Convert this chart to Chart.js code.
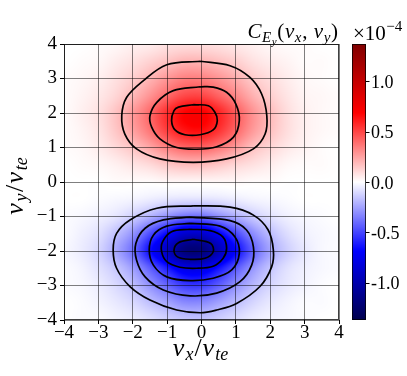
<!DOCTYPE html>
<html>
<head>
<meta charset="utf-8">
<script src="https://cdn.jsdelivr.net/npm/chart.js@4.4.0/dist/chart.umd.min.js"></script>
<style>
  html, body { margin: 0; padding: 0; background: #fff; }
</style>
</head>
<body>
<canvas id="chart" width="407" height="376"></canvas>
<script>
// C_Ey on a 0.5 grid, in units of 1e-4
const gridVx = [-4, -3.5, -3, -2.5, -2, -1.5, -1, -0.5, 0, 0.5, 1, 1.5, 2, 2.5, 3, 3.5, 4];
const gridVy = [4, 3.5, 3, 2.5, 2, 1.5, 1, 0.5, 0, -0.5, -1, -1.5, -2, -2.5, -3, -3.5, -4];
const cValues = [
  [0, 0, 0.01, 0.02, 0.04, 0.05, 0.08, 0.09, 0.09, 0.08, 0.06, 0.04, 0.02, 0.01, 0.01, 0, 0],
  [0, 0.01, 0.02, 0.05, 0.08, 0.12, 0.16, 0.2, 0.2, 0.17, 0.13, 0.08, 0.05, 0.03, 0.01, 0.01, 0],
  [0.01, 0.02, 0.04, 0.08, 0.13, 0.2, 0.28, 0.34, 0.34, 0.29, 0.22, 0.14, 0.09, 0.05, 0.02, 0.01, 0],
  [0.01, 0.03, 0.06, 0.11, 0.19, 0.29, 0.4, 0.49, 0.5, 0.42, 0.32, 0.21, 0.13, 0.07, 0.03, 0.02, 0.01],
  [0.01, 0.04, 0.08, 0.16, 0.27, 0.4, 0.56, 0.68, 0.7, 0.59, 0.44, 0.29, 0.18, 0.09, 0.04, 0.02, 0.01],
  [0.01, 0.03, 0.07, 0.15, 0.25, 0.37, 0.52, 0.63, 0.65, 0.55, 0.41, 0.27, 0.17, 0.09, 0.04, 0.02, 0.01],
  [0.01, 0.02, 0.05, 0.1, 0.16, 0.24, 0.34, 0.41, 0.42, 0.36, 0.27, 0.17, 0.11, 0.06, 0.03, 0.01, 0],
  [0, 0.01, 0.02, 0.04, 0.07, 0.1, 0.15, 0.18, 0.18, 0.15, 0.11, 0.08, 0.05, 0.02, 0.01, 0.01, 0],
  [0, 0, 0, 0.01, 0.01, 0.01, 0.02, 0.02, 0.02, 0.02, 0.02, 0.01, 0.01, 0, 0, 0, 0],
  [0, 0, -0.01, -0.02, -0.03, -0.05, -0.07, -0.08, -0.08, -0.07, -0.05, -0.03, -0.02, -0.01, 0, 0, 0],
  [-0.01, -0.02, -0.04, -0.07, -0.13, -0.21, -0.3, -0.38, -0.39, -0.31, -0.22, -0.14, -0.08, -0.04, -0.02, -0.01, 0],
  [-0.01, -0.04, -0.08, -0.17, -0.29, -0.48, -0.68, -0.87, -0.88, -0.71, -0.5, -0.31, -0.18, -0.09, -0.04, -0.02, -0.01],
  [-0.02, -0.05, -0.11, -0.23, -0.39, -0.65, -0.92, -1.18, -1.19, -0.96, -0.67, -0.42, -0.24, -0.13, -0.06, -0.02, -0.01],
  [-0.01, -0.03, -0.08, -0.15, -0.26, -0.43, -0.61, -0.78, -0.79, -0.64, -0.45, -0.28, -0.16, -0.08, -0.04, -0.02, -0.01],
  [-0.01, -0.02, -0.05, -0.1, -0.17, -0.29, -0.41, -0.52, -0.53, -0.43, -0.3, -0.19, -0.11, -0.06, -0.03, -0.01, 0],
  [0, -0.01, -0.03, -0.06, -0.1, -0.17, -0.24, -0.31, -0.31, -0.25, -0.18, -0.11, -0.06, -0.03, -0.01, -0.01, 0],
  [0, -0.01, -0.01, -0.03, -0.05, -0.08, -0.12, -0.15, -0.16, -0.13, -0.09, -0.05, -0.03, -0.02, -0.01, 0, 0]
];

// tick labels
const xTicks = [-4, -3, -2, -1, 0, 1, 2, 3, 4];
const xTickLabels = ["\u22124", "\u22123", "\u22122", "\u22121", "0", "1", "2", "3", "4"];
const yTicks = [-4, -3, -2, -1, 0, 1, 2, 3, 4];
const yTickLabels = ["\u22124", "\u22123", "\u22122", "\u22121", "0", "1", "2", "3", "4"];
const cbarTicks = [-1.0, -0.5, 0.0, 0.5, 1.0];
const cbarTickLabels = ["-1.0", "-0.5", "0.0", "0.5", "1.0"];
const cbarRange = [-1.37, 1.37];

// contour lines, [vx, vy]
const redContour1 = [[-0.04, 3.50], [-1.01, 3.40], [-1.69, 2.94], [-2.18, 2.45], [-2.32, 1.92], [-2.23, 1.39], [-1.89, 0.96], [-1.21, 0.67], [-0.24, 0.57], [0.73, 0.67], [1.51, 0.96], [1.85, 1.39], [1.90, 1.92], [1.75, 2.55], [1.41, 3.03], [0.83, 3.37]];
const redContour2 = [[-0.04, 2.76], [-0.82, 2.65], [-1.30, 2.31], [-1.50, 1.92], [-1.45, 1.59], [-1.21, 1.25], [-0.72, 1.00], [-0.14, 0.95], [0.44, 1.02], [0.93, 1.30], [1.10, 1.78], [1.00, 2.26], [0.73, 2.60], [0.34, 2.75]];
const redContour3 = [[-0.24, 2.24], [0.20, 2.21], [0.39, 2.02], [0.46, 1.78], [0.34, 1.51], [-0.04, 1.37], [-0.48, 1.37], [-0.77, 1.51], [-0.87, 1.78], [-0.80, 2.07], [-0.67, 2.17]];
const blueContour1 = [[-0.24, -0.69], [-1.30, -0.76], [-2.08, -1.10], [-2.47, -1.49], [-2.57, -1.97], [-2.47, -2.50], [-2.08, -3.03], [-1.50, -3.42], [-0.72, -3.71], [-0.04, -3.79], [0.44, -3.71], [1.02, -3.52], [1.70, -3.03], [2.04, -2.46], [2.09, -1.97], [1.94, -1.39], [1.51, -0.96], [0.83, -0.73]];
const blueContour2 = [[-0.33, -1.02], [-1.11, -1.10], [-1.64, -1.34], [-1.91, -1.78], [-1.89, -2.26], [-1.64, -2.75], [-1.11, -3.13], [-0.33, -3.30], [0.44, -3.22], [1.12, -2.89], [1.46, -2.41], [1.51, -1.88], [1.31, -1.39], [0.83, -1.12]];
const blueContour3 = [[-0.33, -1.20], [-1.01, -1.28], [-1.40, -1.54], [-1.52, -1.97], [-1.40, -2.41], [-1.01, -2.75], [-0.33, -2.86], [0.34, -2.79], [0.88, -2.55], [1.10, -2.07], [0.97, -1.59], [0.54, -1.28]];
const blueContour4 = [[-0.33, -1.37], [-0.87, -1.44], [-1.13, -1.73], [-1.16, -2.02], [-1.01, -2.31], [-0.63, -2.47], [-0.14, -2.50], [0.34, -2.44], [0.63, -2.21], [0.73, -1.92], [0.62, -1.59], [0.25, -1.41]];
const blueContour5 = [[-0.24, -1.66], [-0.67, -1.76], [-0.80, -1.97], [-0.70, -2.17], [-0.33, -2.24], [0.10, -2.21], [0.34, -2.02], [0.27, -1.78]];

const contours = [redContour1, redContour2, redContour3, blueContour1, blueContour2, blueContour3, blueContour4, blueContour5];

const SERIF = '"Liberation Serif", "DejaVu Serif", serif';

// matplotlib "seismic"
function seismic(t) {
  t = Math.max(0, Math.min(1, t));
  let r, g, b;
  if (t < 0.25) { const s = t / 0.25; r = 0; g = 0; b = 0.3 + 0.7 * s; }
  else if (t < 0.5) { const s = (t - 0.25) / 0.25; r = s; g = s; b = 1; }
  else if (t < 0.75) { const s = (t - 0.5) / 0.25; r = 1; g = 1 - s; b = 1 - s; }
  else { const s = (t - 0.75) / 0.25; r = 1 - 0.5 * s; g = 0; b = 0; }
  return [r * 255, g * 255, b * 255];
}

function valueToT(v) {
  return (v - cbarRange[0]) / (cbarRange[1] - cbarRange[0]);
}

// smooth sampling of the grid (catmull-rom), only for painting
function cubic(p0, p1, p2, p3, t) {
  return p1 + 0.5 * t * (p2 - p0 + t * (2 * p0 - 5 * p1 + 4 * p2 - p3 + t * (3 * (p1 - p2) + p3 - p0)));
}
function cell(i, j) {
  i = Math.max(0, Math.min(gridVy.length - 1, i));
  j = Math.max(0, Math.min(gridVx.length - 1, j));
  return cValues[i][j];
}
function sampleGrid(vx, vy) {
  const fx = (vx - gridVx[0]) / (gridVx[1] - gridVx[0]);
  const fy = (vy - gridVy[0]) / (gridVy[1] - gridVy[0]);
  const j = Math.floor(fx), i = Math.floor(fy);
  const tx = fx - j, ty = fy - i;
  const rows = [];
  for (let k = -1; k <= 2; k++) {
    rows.push(cubic(cell(i + k, j - 1), cell(i + k, j), cell(i + k, j + 1), cell(i + k, j + 2), tx));
  }
  return cubic(rows[0], rows[1], rows[2], rows[3], ty);
}

// draws the field under the grid lines
const heatmapPlugin = {
  id: "heatmap",
  beforeDraw(chart) {
    const ctx = chart.ctx;
    const xs = chart.scales.x, ys = chart.scales.y;
    const left = Math.round(chart.chartArea.left), top = Math.round(chart.chartArea.top);
    const w = Math.round(chart.chartArea.right) - left;
    const h = Math.round(chart.chartArea.bottom) - top;
    const img = ctx.createImageData(w, h);
    for (let py = 0; py < h; py++) {
      const vy = ys.getValueForPixel(top + py + 0.5);
      for (let px = 0; px < w; px++) {
        const vx = xs.getValueForPixel(left + px + 0.5);
        const c = seismic(valueToT(sampleGrid(vx, vy)));
        const k = (py * w + px) * 4;
        img.data[k] = c[0]; img.data[k + 1] = c[1]; img.data[k + 2] = c[2]; img.data[k + 3] = 255;
      }
    }
    ctx.putImageData(img, left, top);
  }
};

function drawRuns(ctx, runs, x, y, align, gap) {
  gap = gap || 0;
  let total = 0;
  runs.forEach(r => {
    ctx.font = (r[3] ? "italic " : "") + r[1] + "px " + SERIF;
    r.w = ctx.measureText(r[0]).width + gap;
    total += r.w;
  });
  total -= gap;
  let cx = align === "right" ? x - total : (align === "center" ? x - total / 2 : x);
  ctx.textAlign = "left";
  ctx.textBaseline = "alphabetic";
  runs.forEach(r => {
    ctx.font = (r[3] ? "italic " : "") + r[1] + "px " + SERIF;
    ctx.fillText(r[0], cx, y + r[2]);
    cx += r.w;
  });
}

// colorbar, frame and the latex-ish labels
const decorPlugin = {
  id: "decor",
  afterDraw(chart) {
    const ctx = chart.ctx;
    const a = chart.chartArea;
    ctx.save();

    // frame
    ctx.strokeStyle = "rgba(0,0,0,0.75)";
    ctx.lineWidth = 1;
    ctx.strokeRect(Math.round(a.left) + 0.5, Math.round(a.top) + 0.5, Math.round(a.right - a.left) - 1, Math.round(a.bottom - a.top) - 1);

    // colorbar
    const cbL = 352, cbR = 366, cbT = Math.round(a.top), cbB = Math.round(a.bottom);
    for (let py = cbT; py < cbB; py++) {
      const v = cbarRange[1] - (py + 0.5 - cbT) / (cbB - cbT) * (cbarRange[1] - cbarRange[0]);
      const c = seismic(valueToT(v));
      ctx.fillStyle = "rgb(" + c.map(Math.round).join(",") + ")";
      ctx.fillRect(cbL, py, cbR - cbL, 1);
    }
    ctx.strokeStyle = "rgba(0,0,0,0.75)";
    ctx.strokeRect(cbL + 0.5, cbT + 0.5, cbR - cbL - 1, cbB - cbT - 1);
    ctx.fillStyle = "#000";
    ctx.strokeStyle = "#000";
    ctx.font = "18px " + SERIF;
    ctx.textAlign = "left";
    ctx.textBaseline = "middle";
    cbarTicks.forEach((v, i) => {
      const y = cbB - (v - cbarRange[0]) / (cbarRange[1] - cbarRange[0]) * (cbB - cbT);
      ctx.beginPath();
      ctx.moveTo(cbR, Math.round(y) + 0.5);
      ctx.lineTo(cbR + 3.5, Math.round(y) + 0.5);
      ctx.stroke();
      ctx.fillText(cbarTickLabels[i], cbR + 5, y + 2);
    });

    // title and scale factor
    drawRuns(ctx, [["C", 21, 0, true], ["E", 15, 4, true], ["y", 11, 7, true], ["(", 21, 0], ["v", 21, 0, true], ["x", 15, 4, true], [",", 21, 0], [" ", 21, 0], ["v", 21, 0, true], ["y", 15, 4, true], [")", 21, 0]], 338, 38, "right", 0.6);
    drawRuns(ctx, [["\u00d710", 21, 0], ["\u22124", 15, -9]], 353, 40, "left", 0.5);

    // axis titles
    drawRuns(ctx, [["v", 26, 0, true], ["x", 18, 4, true], ["/", 26, 0], ["v", 26, 0, true], ["te", 18, 4, true]], (a.left + a.right) / 2 - 1, 356, "center", 1);
    ctx.translate(23, 186);
    ctx.rotate(-Math.PI / 2);
    drawRuns(ctx, [["v", 26, 0, true], ["y", 18, 4, true], ["/", 26, 0], ["v", 26, 0, true], ["te", 18, 4, true]], 0, 0, "center", 1.5);
    ctx.restore();
  }
};

const ctx = document.getElementById("chart").getContext("2d");

new Chart(ctx, {
  type: "scatter",
  data: {
    datasets: contours.map(c => ({
      data: c.concat([c[0]]).map(p => ({ x: p[0], y: p[1] })),
      showLine: true,
      borderColor: "#000",
      borderWidth: 1.7,
      pointRadius: 0,
      tension: 0.35,
      fill: false
    }))
  },
  options: {
    responsive: false,
    animation: false,
    layout: { padding: { left: 0, right: 68, top: 44, bottom: 0 } },
    plugins: { legend: { display: false }, tooltip: { enabled: false } },
    scales: {
      x: {
        type: "linear",
        min: -4, max: 4,
        afterBuildTicks: s => { s.ticks = xTicks.map(v => ({ value: v })); },
        afterFit: s => { s.height = 56; },
        ticks: {
          callback: v => xTickLabels[xTicks.indexOf(v)],
          font: { family: SERIF, size: 19 },
          color: "#000",
          padding: -2,
          maxRotation: 0
        },
        grid: { color: "rgba(0,0,0,0.5)", lineWidth: 1, tickLength: 4, tickColor: "#000" },
        border: { display: false }
      },
      y: {
        type: "linear",
        min: -4, max: 4,
        afterBuildTicks: s => { s.ticks = yTicks.map(v => ({ value: v })); },
        afterFit: s => { s.width = 64; },
        ticks: {
          callback: v => yTickLabels[yTicks.indexOf(v)],
          font: { family: SERIF, size: 19 },
          color: "#000",
          padding: 3
        },
        grid: { color: "rgba(0,0,0,0.5)", lineWidth: 1, tickLength: 4, tickColor: "#000" },
        border: { display: false }
      }
    }
  },
  plugins: [heatmapPlugin, decorPlugin]
});
</script>
</body>
</html>
